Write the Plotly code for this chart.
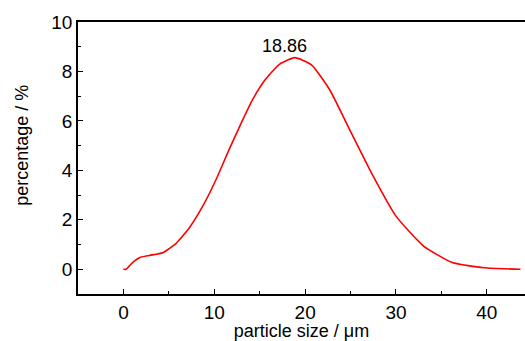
import plotly.graph_objects as go

size_um = [0.0, 0.3, 1.0, 1.76, 2.86, 4.33, 5.8, 7.26, 8.73, 10.2, 11.7, 12.95, 14.2, 15.6, 17.2, 18.86,
           20.7, 22.7, 24.9, 27.4, 30.0, 33.0, 36.2, 39.7, 43.7]
percentage = [0.0, 0.0, 0.27, 0.47, 0.56, 0.67, 1.05, 1.68, 2.55, 3.63, 4.9, 5.9, 6.85, 7.66, 8.3, 8.56,
              8.27, 7.26, 5.65, 3.83, 2.15, 0.95, 0.27, 0.06, 0.0]
peak_x = 18.86
peak_y = 8.56
peak_label = "18.86"

FONT = "Liberation Sans, Arial, sans-serif"

fig = go.Figure()
fig.add_trace(go.Scatter(x=size_um, y=percentage, mode="lines",
                         line=dict(color="#ff0000", width=1.6, shape="spline", smoothing=0.5),
                         showlegend=False))

fig.add_annotation(x=peak_x, y=peak_y, text=peak_label, showarrow=False,
                   xref="x", yref="y", yanchor="bottom", yshift=0, xshift=-10,
                   font=dict(family=FONT, size=18, color="black"))

fig.add_annotation(x=-0.125, y=5.0, xref="paper", yref="y", text="percentage / %",
                   textangle=-90, showarrow=False, xanchor="center", yanchor="middle",
                   font=dict(family=FONT, size=18, color="black"))

fig.update_layout(
    width=525, height=341,
    margin=dict(l=78, r=0, t=22, b=47),
    paper_bgcolor="white", plot_bgcolor="white",
    font=dict(family=FONT, size=18, color="black"),
    xaxis=dict(range=[-5, 44.2], tickvals=[0, 10, 20, 30, 40], ticks="inside", ticklen=5,
               tickwidth=1.2, tickcolor="black", showline=True, linecolor="black", linewidth=1.6,
               mirror=True, showgrid=False, zeroline=False,
               minor=dict(tickvals=[5, 15, 25, 35], ticks="inside", ticklen=3, tickcolor="black", tickwidth=1.2),
               title=dict(text="particle size / μm", standoff=2, font=dict(size=18)),
               tickfont=dict(size=19)),
    yaxis=dict(range=[-1, 10], tickvals=[0, 2, 4, 6, 8, 10], ticks="inside", ticklen=5,
               tickwidth=1.2, tickcolor="black", showline=True, linecolor="black", linewidth=1.6,
               mirror=False, showgrid=False, zeroline=False,
               minor=dict(tickvals=[1, 3, 5, 7, 9], ticks="inside", ticklen=3, tickcolor="black", tickwidth=1.2),
               tickfont=dict(size=19)),
)

fig.write_html("out.html")
